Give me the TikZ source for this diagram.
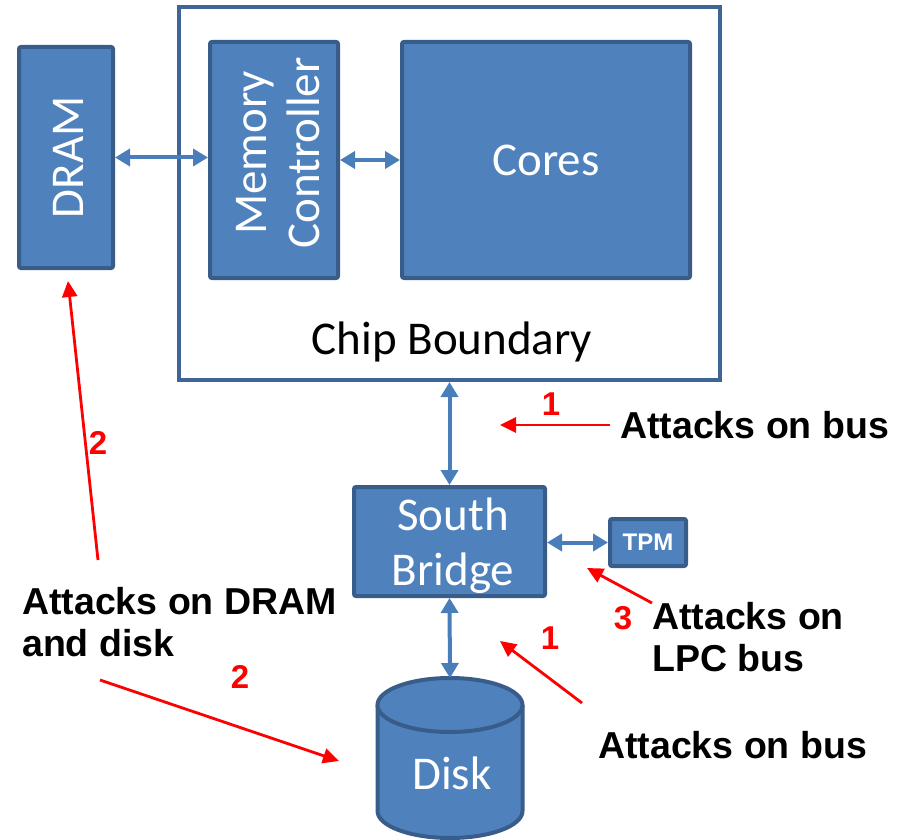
\documentclass[tikz,border=0pt]{standalone}
\usepackage{fontspec}
\setmainfont{Carlito}
\newfontfamily\labelfont{Liberation Sans}
\usetikzlibrary{arrows.meta}
\definecolor{boxfill}{HTML}{4F81BD}
\definecolor{boxedge}{HTML}{385D8A}
\definecolor{chipedge}{HTML}{3F6596}
\definecolor{busblue}{HTML}{4A7EBB}
\begin{document}
\begin{tikzpicture}[x=1pt,y=-1pt,
  block/.style={draw=boxedge, fill=boxfill, line width=4pt, rounded corners=2pt,
    text=white, font=\fontsize{47}{54}\selectfont, inner sep=0pt},
  boxtext/.style={text=white, font=\fontsize{47}{54}\selectfont, inner sep=0pt, align=center},
  link/.style={busblue, line width=4pt,
    {Triangle[length=15pt,width=17pt]}-{Triangle[length=15pt,width=17pt]}},
  attack/.style={red, line width=2.8pt, -{Triangle[length=16pt,width=15pt]}},
  tag/.style={font=\labelfont\bfseries\fontsize{37.5}{42}\selectfont,
    inner sep=0pt, align=left},
  num/.style={red, font=\labelfont\bfseries\fontsize{33}{35}\selectfont, inner sep=0pt}]
\useasboundingbox (0,0) rectangle (906,840);

% chip package and its contents
\node[draw=chipedge, fill=white, line width=4pt, minimum width=541pt, minimum height=373pt,
  inner sep=0pt] (chip) at (449.5,193.5) {};
\node[font=\fontsize{47}{54}\selectfont] (chiplabel) at (452,342) {Chip Boundary};
\node[block, minimum width=128pt, minimum height=236pt] (mc) at (274,160) {};
\node[boxtext, rotate=90, font=\fontsize{47}{53}\selectfont] (mctext) at (278,153)
  {Memory\\Controller};
\node[block, minimum width=288pt, minimum height=236pt] (cores) at (546,160) {Cores};

% memory and I/O components
\node[block, minimum width=94pt, minimum height=221pt] (dram) at (66,157.5) {};
\node[boxtext, rotate=90] (dramtext) at (68,157.5) {DRAM};
\node[block, minimum width=191pt, minimum height=109pt] (sb) at (449.5,541.5) {};
\node[boxtext, font=\fontsize{47}{55}\selectfont] (sbtext) at (453,546) {South\\Bridge};
\node[block, minimum width=76pt, minimum height=47pt,
  font=\labelfont\bfseries\fontsize{24}{26}\selectfont] (tpm) at (648,542.5) {TPM};

% disk cylinder
\fill[boxfill] (377.5,705) -- (377.5,811) arc[start angle=180, end angle=0,
  x radius=72.5, y radius=27] -- (522.5,705) -- cycle;
\draw[boxedge, line width=4pt] (377.5,705) -- (377.5,811) arc[start angle=180, end angle=0,
  x radius=72.5, y radius=27] -- (522.5,705);
\draw[boxedge, fill=boxfill, line width=4pt] (450,705) ellipse[x radius=72.5, y radius=27];
\node[boxtext] (disk) at (452,773) {Disk};
\coordinate (disktop) at (450,678);

% buses
\draw[link] (dram.east) -- (dram.east -| mc.west);
\draw[link] (mc.east) -- (cores.west);
\draw[link] (chip.south -| sb.north) -- (sb.north);
\draw[link] (sb.east |- tpm.west) -- (tpm.west);
\draw[link] (sb.south) -- (disktop);

% attack annotations
\node[tag, anchor=west] (bus1) at (620,425) {Attacks on bus};
\node[tag, anchor=west] (bus2) at (598,745) {Attacks on bus};
\node[tag, anchor=west] (memattack) at (22,622) {Attacks on DRAM\\and disk};
\node[tag, anchor=west] (lpc) at (652,637) {Attacks on\\LPC bus};

\coordinate (t1) at (500,425);
\coordinate (t2up) at (68,281);
\coordinate (s2up) at (98,560);
\coordinate (s2down) at (100,680);
\coordinate (t2down) at (339,761);
\coordinate (s1low) at (582,703);
\coordinate (t1low) at (500,641);
\coordinate (s3) at (652,603);
\coordinate (t3) at (587,568);

\draw[attack] ([xshift=-10pt]bus1.west) -- (t1);
\draw[attack] (s2up) -- (t2up);
\draw[attack] (s2down) -- (t2down);
\draw[attack] (s1low) -- (t1low);
\draw[attack] (s3) -- (t3);

\node[num] (n1) at (551,404) {1};
\node[num] (n2up) at (98,443) {2};
\node[num] (n2down) at (240,677) {2};
\node[num] (n1low) at (550,638) {1};
\node[num] (n3) at (623,618) {3};
\end{tikzpicture}
\end{document}
